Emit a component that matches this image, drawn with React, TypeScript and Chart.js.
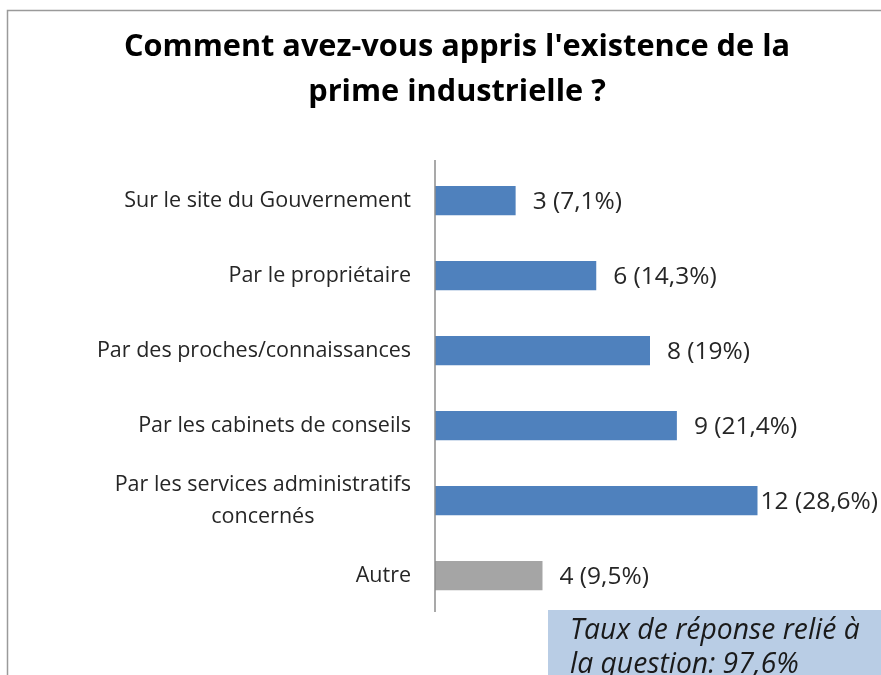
import React, { useEffect, useRef } from "react";
import { Chart, registerables } from "chart.js";

Chart.register(...registerables);

const titleLines = ["Comment avez-vous appris l'existence de la", "prime industrielle ?"];
const categories: string[][] = [
  ["Sur le site du Gouvernement"],
  ["Par le propriétaire"],
  ["Par des proches/connaissances"],
  ["Par les cabinets de conseils"],
  ["Par les services administratifs", "concernés"],
  ["Autre"],
];
const counts = [3, 6, 8, 9, 12, 4];
const percents = ["7,1%", "14,3%", "19%", "21,4%", "28,6%", "9,5%"];
const barColors = ["#4F81BD", "#4F81BD", "#4F81BD", "#4F81BD", "#4F81BD", "#A5A5A5"];
const noteLines = ["Taux de réponse relié à", "la question: 97,6%"];

const FONT = "'Open Sans', 'Noto Sans', sans-serif";

const overlay = {
  id: "overlay",
  afterDraw(chart: any) {
    const ctx: CanvasRenderingContext2D = chart.ctx;
    const area = chart.chartArea;
    const y = chart.scales.y;
    const x = chart.scales.x;
    const W = chart.width;
    ctx.save();
    // outer frame
    ctx.strokeStyle = "#9a9a9a";
    ctx.lineWidth = 1.5;
    ctx.beginPath();
    ctx.moveTo(7.5, chart.height + 5);
    ctx.lineTo(7.5, 10.5);
    ctx.lineTo(W + 5, 10.5);
    ctx.stroke();

    // title
    ctx.fillStyle = "#000";
    ctx.font = `bold 30.7px ${FONT}`;
    ctx.textAlign = "center";
    ctx.textBaseline = "middle";
    titleLines.forEach((t, i) => ctx.fillText(t, 457, 47 + i * 45));

    // axis line
    ctx.strokeStyle = "#8c8c8c";
    ctx.lineWidth = 1.5;
    ctx.beginPath();
    ctx.moveTo(area.left, area.top - 3);
    ctx.lineTo(area.left, area.bottom - 1);
    ctx.stroke();

    // category labels (each line centered in its block, block right-aligned)
    ctx.fillStyle = "#262626";
    ctx.font = `21.5px ${FONT}`;
    ctx.textBaseline = "middle";
    categories.forEach((lines, i) => {
      const cy = y.getPixelForValue(i);
      const widths = lines.map((l) => ctx.measureText(l).width);
      const maxW = Math.max(...widths);
      const right = area.left - 24;
      const center = right - maxW / 2;
      const lh = 32;
      lines.forEach((l, j) => {
        ctx.textAlign = "center";
        ctx.fillText(l, center, cy + (j - (lines.length - 1) / 2) * lh);
      });
    });

    // data labels
    ctx.font = `24.5px ${FONT}`;
    ctx.textAlign = "left";
    counts.forEach((v, i) => {
      const txt = `${v} (${percents[i]})`;
      const tw = ctx.measureText(txt).width;
      const cy = y.getPixelForValue(i);
      let lx = x.getPixelForValue(v) + 17;
      if (lx + tw > W - 3) lx = Math.max(x.getPixelForValue(v) + 3, W - 3 - tw);
      ctx.fillText(txt, lx, cy + 2);
    });

    // note box
    ctx.fillStyle = "#B9CDE5";
    ctx.fillRect(548, 610, W - 548, chart.height - 610);
    ctx.fillStyle = "#1a1a1a";
    ctx.font = `italic 28.3px ${FONT}`;
    ctx.textAlign = "left";
    noteLines.forEach((t, i) => ctx.fillText(t, 570, 631 + i * 34));
    ctx.restore();
  },
};

export default function App() {
  const ref = useRef<HTMLCanvasElement>(null);
  useEffect(() => {
    if (!ref.current) return;
    const chart = new Chart(ref.current, {
      type: "bar",
      data: {
        labels: categories.map((c) => c.join(" ")),
        datasets: [
          {
            data: counts,
            backgroundColor: barColors,
            borderWidth: 0,
            barPercentage: 0.39,
            categoryPercentage: 1,
          },
        ],
      },
      options: {
        indexAxis: "y",
        animation: false,
        responsive: false,
        layout: { padding: { left: 435, top: 163, bottom: 62, right: 16 } },
        plugins: { legend: { display: false }, tooltip: { enabled: false }, title: { display: false } },
        scales: {
          x: { display: false, min: 0, max: 16 },
          y: { display: false },
        },
      },
      plugins: [overlay],
    });
    return () => chart.destroy();
  }, []);
  return (
    <div style={{ position: "fixed", left: 0, top: 0, width: 881, height: 675, background: "#fff" }}>
      <canvas ref={ref} width={881} height={675} style={{ display: "block" }} />
    </div>
  );
}
